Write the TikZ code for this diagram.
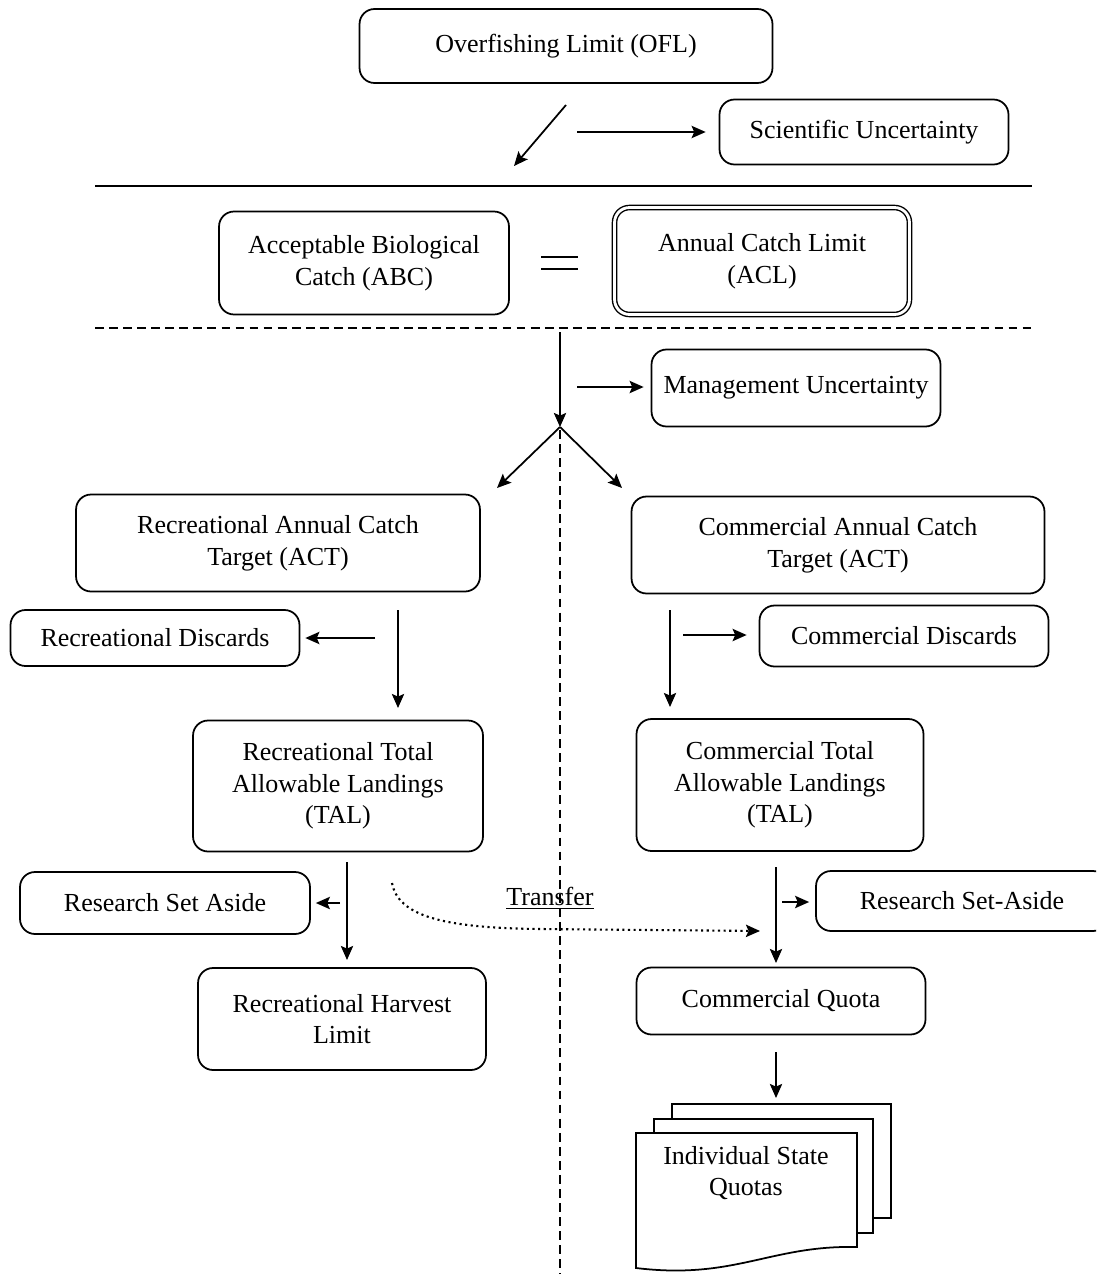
\documentclass[tikz,border=0pt]{standalone}
\usepackage{fontspec}
\setmainfont{Liberation Serif}
\usetikzlibrary{arrows.meta}
\begin{document}
\begin{tikzpicture}[x=0.02cm,y=-0.02cm, line width=1pt,
  box/.style={draw, rounded corners=0.3cm, align=center, inner sep=0pt,
    font=\fontsize{14.8}{18}\selectfont, fill=white},
  arr/.style={-{Stealth[length=8pt,width=7pt,inset=1.5pt]}},
  dashline/.style={dash pattern=on 5pt off 3pt},
  sheet/.style={draw, fill=white, line width=1pt}]
\useasboundingbox (0,0) rectangle (1096,1274);
% nodes
\node[box, minimum width=8.26cm, minimum height=1.48cm] (ofl) at (566,46) {Overfishing Limit (OFL)};
\node[box, minimum width=5.78cm, minimum height=1.3cm] (sci) at (864,132) {Scientific Uncertainty};
\node[box, minimum width=5.8cm, minimum height=2.06cm] (abc) at (364,263) {Acceptable Biological\\Catch (ABC)};
\node[box, minimum width=5.9cm, minimum height=2.14cm, double, double distance=1.6pt, line width=0.8pt] (acl) at (762,261) {Annual Catch Limit\\(ACL)};
\node[box, minimum width=5.78cm, minimum height=1.54cm] (mgmt) at (796,388) {Management Uncertainty};
\node[box, minimum width=8.08cm, minimum height=1.94cm] (ract) at (278,543) {Recreational Annual Catch\\Target (ACT)};
\node[box, minimum width=8.26cm, minimum height=1.94cm] (cact) at (838,545) {Commercial Annual Catch\\Target (ACT)};
\node[box, minimum width=5.78cm, minimum height=1.12cm] (rdisc) at (155,638) {Recreational Discards};
\node[box, minimum width=5.78cm, minimum height=1.22cm] (cdisc) at (904,636) {Commercial Discards};
\node[box, minimum width=5.8cm, minimum height=2.62cm] (rtal) at (338,786) {Recreational Total\\Allowable Landings\\(TAL)};
\node[box, minimum width=5.74cm, minimum height=2.64cm] (ctal) at (780,785) {Commercial Total\\Allowable Landings\\(TAL)};
\node[box, minimum width=5.8cm, minimum height=1.24cm] (rrsa) at (165,903) {Research Set Aside};
\begin{scope}
\clip (0,0) rectangle (1096,1274);
\node[box, minimum width=5.84cm, minimum height=1.2cm] (crsa) at (962,901) {Research Set-Aside};
\end{scope}
\node[box, minimum width=5.76cm, minimum height=2.04cm] (rhl) at (342,1019) {Recreational Harvest\\Limit};
\node[box, minimum width=5.78cm, minimum height=1.34cm] (cq) at (781,1001) {Commercial Quota};
% document stack
\draw[sheet] (672,1104) rectangle (891,1218);
\draw[sheet] (654,1119) rectangle (873,1233);
\draw[sheet] (636,1133) -- (857,1133) -- (857,1247)
  .. controls (770,1245) and (735,1280) .. (636,1268) -- cycle;
\node[align=center, inner sep=0pt, font=\fontsize{14.8}{18}\selectfont] (isq) at (746,1173) {Individual State\\Quotas};
% coordinates
\coordinate (d1) at (566,105);
\coordinate (d2) at (514,166);
\coordinate (s1) at (577,132);
\coordinate (l1) at (95,186);
\coordinate (l2) at (1032,186);
\coordinate (m1) at (95,328);
\coordinate (m2) at (1032,328);
\coordinate (v1) at (560,332);
\coordinate (split) at (560,427);
\coordinate (mu) at (577,387);
\coordinate (sl) at (497,488);
\coordinate (sr) at (622,488);
\coordinate (vd1) at (560,430);
\coordinate (vd2) at (560,1274);
\coordinate (rd) at (375,638);
\coordinate (ra1) at (398,610);
\coordinate (ra2) at (398,708);
\coordinate (ca1) at (670,610);
\coordinate (ca2) at (670,707);
\coordinate (cd) at (683,635);
\coordinate (rs) at (340,903);
\coordinate (rt1) at (347,862);
\coordinate (rt2) at (347,960);
\coordinate (ct1) at (776,867);
\coordinate (ct2) at (776,963);
\coordinate (cs) at (782,902);
\coordinate (tr1) at (392,883);
\coordinate (tr2) at (540,929);
\coordinate (tr3) at (760,931);
\coordinate (q1) at (776,1052);
\coordinate (q2) at (776,1098);
% separators
\draw (l1) -- (l2);
\draw[dashline] (m1) -- (m2);
\draw[dashline] (vd1) -- (vd2);
\draw (541,257) -- (578,257);
\draw (541,269) -- (578,269);
% arrows
\draw[arr] (d1) -- (d2);
\draw[arr, shorten >=0.26cm] (s1) -- (sci.west);
\draw[arr] (v1) -- (split);
\draw[arr, shorten >=0.14cm] (mu) -- (mu -| mgmt.west);
\draw[arr] (split) -- (sl);
\draw[arr] (split) -- (sr);
\draw[arr, shorten >=0.1cm] (rd) -- (rdisc.east);
\draw[arr] (ra1) -- (ra2);
\draw[arr] (ca1) -- (ca2);
\draw[arr, shorten >=0.24cm] (cd) -- (cd -| cdisc.west);
\draw[arr, shorten >=0.1cm] (rs) -- (rrsa.east);
\draw[arr] (rt1) -- (rt2);
\draw[arr] (ct1) -- (ct2);
\draw[arr, shorten >=0.12cm] (cs) -- (cs -| crsa.west);
\draw[arr, dotted, line width=1.2pt] (tr1) .. controls (398,915) and (440,928) .. (tr2) -- (tr3);
\node[font=\fontsize{14.8}{18}\selectfont, inner sep=1pt] (transfer) at (550,898) {\underline{Transfer}};
\draw[arr] (q1) -- (q2);
\end{tikzpicture}
\end{document}
